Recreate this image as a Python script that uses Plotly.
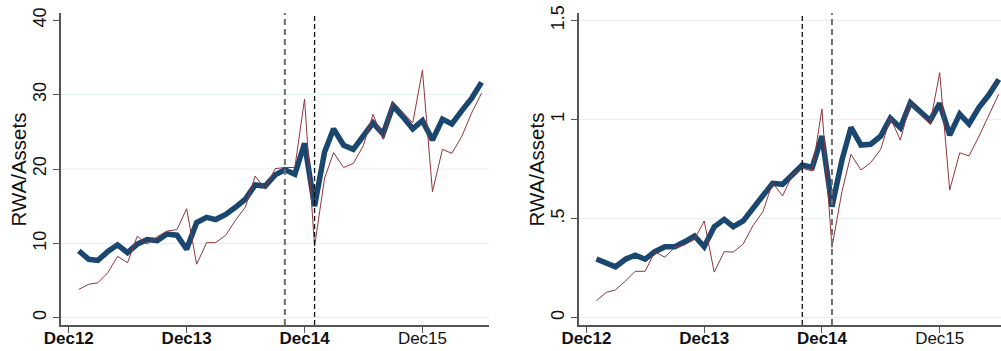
import pandas as pd
import plotly.graph_objects as go

months = pd.date_range("2013-01-01", periods=42, freq="MS")

left_blue = [9.0, 7.85, 7.7, 8.9, 9.8, 8.75, 9.9, 10.5, 10.35, 11.25, 11.1, 9.2,
             12.8, 13.5, 13.2, 13.9, 14.85, 15.95, 17.85, 17.7, 19.2, 19.9, 19.3, 23.45,
             15.0, 22.3, 25.4, 23.2, 22.65, 24.6, 26.2, 24.7, 28.5, 27.05, 25.4, 26.5,
             23.9, 26.7, 26.05, 27.85, 29.5, 31.65]
left_red = [3.8, 4.5, 4.7, 6.05, 8.25, 7.4, 10.95, 9.9, 10.9, 11.65, 11.85, 14.65,
            7.2, 10.1, 10.1, 11.1, 13.1, 14.9, 19.05, 17.3, 20.05, 20.2, 20.2, 29.4,
            9.6, 18.75, 22.2, 20.2, 20.75, 23.15, 27.35, 24.0, 29.05, 27.6, 26.2, 33.3,
            16.95, 22.65, 22.1, 24.4, 27.5, 30.2]
right_blue = [0.296, 0.279, 0.257, 0.295, 0.315, 0.295, 0.333, 0.358, 0.358, 0.383, 0.412, 0.358,
              0.459, 0.496, 0.459, 0.488, 0.552, 0.607, 0.678, 0.673, 0.720, 0.770, 0.758, 0.916,
              0.56, 0.795, 0.960, 0.871, 0.875, 0.916, 1.006, 0.958, 1.084, 1.044, 0.994, 1.081,
              0.921, 1.027, 0.977, 1.061, 1.123, 1.202]
right_red = [0.086, 0.128, 0.140, 0.185, 0.234, 0.234, 0.333, 0.305, 0.355, 0.367, 0.395, 0.488,
             0.23, 0.333, 0.331, 0.372, 0.464, 0.535, 0.681, 0.614, 0.723, 0.754, 0.740, 1.053,
             0.355, 0.636, 0.824, 0.745, 0.782, 0.849, 1.009, 0.896, 1.084, 1.031, 0.977, 1.236,
             0.644, 0.832, 0.816, 0.916, 1.022, 1.128]

x_tickvals = ["2012-12-01", "2013-12-01", "2014-12-01", "2015-12-01"]
x_ticktext = ["<b>Dec12</b>", "<b>Dec13</b>", "<b>Dec14</b>", "Dec15"]
left_yticks = [0, 10, 20, 30, 40]
left_yticktext = ["0", "10", "20", "30", "40"]
left_grid = [0, 10, 20, 30]
right_yticks = [0, 0.5, 1, 1.5]
right_yticktext = ["0", ".5", "1", "1.5"]
right_grid = [0, 0.5, 1, 1.5]
event_dates = ["2014-10-01", "2015-01-01"]

BLUE = "#1a476f"
RED = "#90353b"
W, H = 1001, 351

fig = go.Figure()
fig.add_trace(go.Scatter(x=months, y=left_blue, mode="lines", line=dict(color=BLUE, width=5.5),
                         xaxis="x", yaxis="y", showlegend=False))
fig.add_trace(go.Scatter(x=months, y=left_red, mode="lines", line=dict(color=RED, width=1),
                         xaxis="x", yaxis="y", showlegend=False))
fig.add_trace(go.Scatter(x=months, y=right_blue, mode="lines", line=dict(color=BLUE, width=5.5),
                         xaxis="x2", yaxis="y2", showlegend=False))
fig.add_trace(go.Scatter(x=months, y=right_red, mode="lines", line=dict(color=RED, width=1),
                         xaxis="x2", yaxis="y2", showlegend=False))

shapes = []
for g in left_grid:
    shapes.append(dict(type="line", xref="x domain", yref="y", x0=0, x1=1, y0=g, y1=g,
                       line=dict(color="#e8f0f1", width=1.2), layer="below"))
for g in right_grid:
    shapes.append(dict(type="line", xref="x2 domain", yref="y2", x0=0, x1=1, y0=g, y1=g,
                       line=dict(color="#e8f0f1", width=1.2), layer="below"))
gray_line = dict(color="#6e6e6e", width=2, dash="6px,4px")
black_line = dict(color="#111111", width=1.3, dash="5px,3px")
shapes.append(dict(type="line", xref="x", yref="y domain", x0=event_dates[0], x1=event_dates[0],
                   y0=0, y1=1, line=gray_line))
shapes.append(dict(type="line", xref="x", yref="y domain", x0=event_dates[1], x1=event_dates[1],
                   y0=0, y1=1, line=black_line))
shapes.append(dict(type="line", xref="x2", yref="y2 domain", x0=event_dates[0], x1=event_dates[0],
                   y0=0, y1=1, line=black_line))
shapes.append(dict(type="line", xref="x2", yref="y2 domain", x0=event_dates[1], x1=event_dates[1],
                   y0=0, y1=1, line=gray_line))

font = "Liberation Sans, Arial, sans-serif"
xcommon = dict(type="date", tickvals=x_tickvals, ticktext=x_ticktext, showgrid=False, zeroline=False,
               showline=True, linecolor="#555555", linewidth=1.5, ticks="outside", ticklen=6,
               tickcolor="#555555", tickwidth=1.2, automargin=False, ticklabelstandoff=-9,
               tickfont=dict(size=17, color="#111111", family=font))
ycommon = dict(showgrid=False, zeroline=False, showline=True, linecolor="#555555", linewidth=1.5,
               ticks="outside", ticklen=6, tickcolor="#555555", tickwidth=1.2, tickangle=-90,
               automargin=False, tickfont=dict(size=18, color="#111111", family=font))

fig.update_layout(
    width=W, height=H,
    margin=dict(l=0, r=0, t=13, b=26, autoexpand=False),
    paper_bgcolor="white", plot_bgcolor="white",
    shapes=shapes,
    xaxis=dict(domain=[61 / W, 489.3 / W], range=["2012-11-07", "2016-06-25"], anchor="y", **xcommon),
    yaxis=dict(domain=[0, 1], range=[-0.98, 40.98], tickvals=left_yticks, ticktext=left_yticktext,
               anchor="x", **ycommon),
    xaxis2=dict(domain=[578.7 / W, 1.0], range=["2012-11-07", "2016-06-08"], anchor="y2", **xcommon),
    yaxis2=dict(domain=[0, 1], range=[-0.0368, 1.537], tickvals=right_yticks, ticktext=right_yticktext,
                anchor="x2", **ycommon),
    annotations=[
        dict(text="RWA/Assets", textangle=-90, xref="paper", yref="paper", x=18 / W, y=(351 - 26 - 169.5) / (351 - 39),
             xanchor="center", yanchor="middle", showarrow=False, font=dict(size=20.5, color="#111111", family=font)),
        dict(text="RWA/Assets", textangle=-90, xref="paper", yref="paper", x=536 / W, y=(351 - 26 - 169.5) / (351 - 39),
             xanchor="center", yanchor="middle", showarrow=False, font=dict(size=20.5, color="#111111", family=font)),
    ],
)

fig.write_html("out.html")
